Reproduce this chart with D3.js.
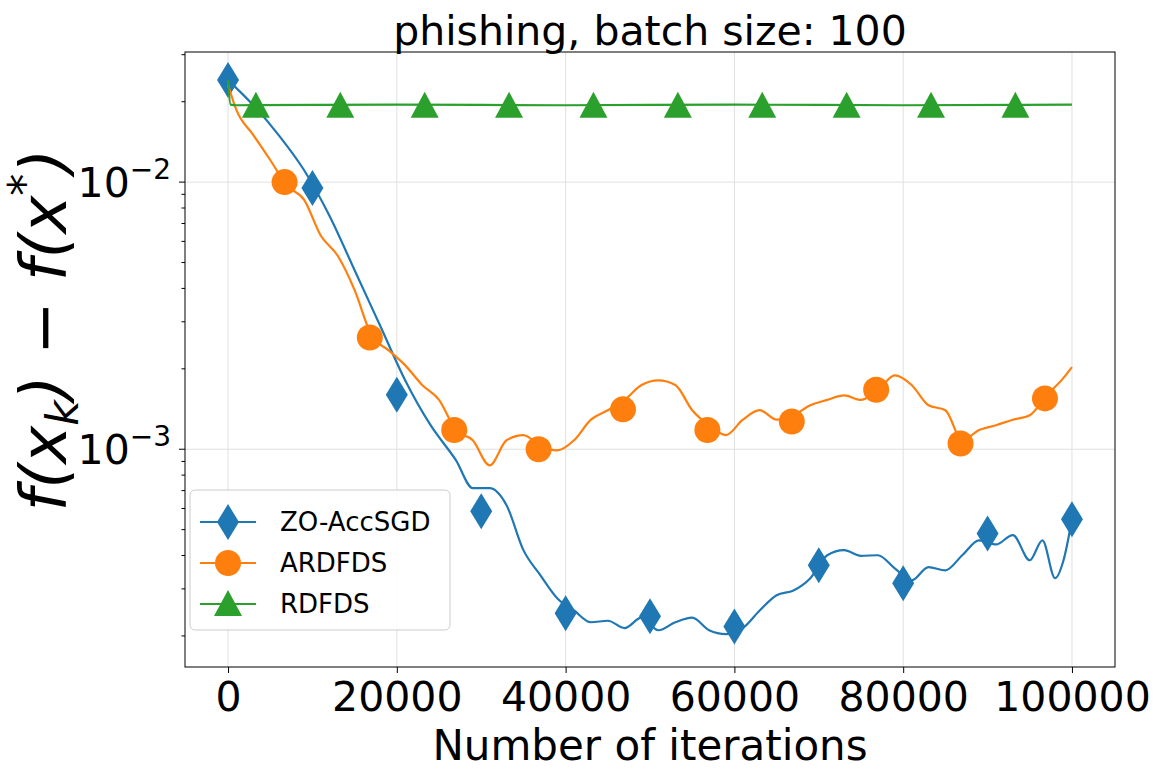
<!DOCTYPE html>
<html lang="en">
<head>
<meta charset="UTF-8">
<title>phishing, batch size: 100</title>
<script src="https://d3js.org/d3.v7.min.js"></script>
<style>
  body { margin: 0; background: #fff; font-family: "DejaVu Sans", sans-serif; }
</style>
</head>
<body>
<div id="container"></div>
<script>
// iterations and f(x_k)-f(x*) values
var zoIter = [0,3000,6000,9000,12000,15000,18000,21000,24000,27000,29000,31000,33000,35000,37000,39000,41000,43000,45000,47000,49000,51000,53000,55000,57000,59000,61000,63000,65000,67000,69000,71000,73000,75000,77000,79000,81000,83000,85000,87000,89000,91000,93000,95000,96500,98000,99000,100000]
var zoVals = [0.0241,0.0194,0.0150,0.0111,0.0075,0.00468,0.00291,0.00181,0.00123,9.1e-4,7.15e-4,7.15e-4,6.17e-4,4.19e-4,3.38e-4,2.77e-4,2.49e-4,2.25e-4,2.28e-4,2.14e-4,2.34e-4,2.10e-4,2.25e-4,2.34e-4,2.10e-4,2.03e-4,2.14e-4,2.49e-4,2.84e-4,2.96e-4,3.29e-4,4.01e-4,4.19e-4,3.99e-4,4.01e-4,3.58e-4,3.23e-4,3.62e-4,3.52e-4,4.01e-4,4.56e-4,4.4e-4,4.77e-4,3.84e-4,4.56e-4,3.29e-4,3.84e-4,5.47e-4]
var zoMarkIter = [0,10000,20000,30000,40000,50000,60000,70000,80000,90000,100000]
var zoMarkVals = [0.0241,0.0095,0.0016,5.86e-4,2.43e-4,2.37e-4,2.17e-4,3.68e-4,3.15e-4,4.84e-4,5.47e-4]

var arIter = [0,1000,3000,5000,7000,9000,11000,13000,15000,17000,19000,21000,23000,25000,27000,29000,31000,33000,35000,37000,39000,41000,43000,45000,47000,49000,51000,53000,55000,57000,59000,61000,63000,65000,67000,69000,71000,73000,75000,77000,79000,81000,83000,85000,87000,89000,91000,93000,95000,97000,99000,100000]
var arVals = [0.0231,0.0186,0.0150,0.0121,0.0097,0.0086,0.0063,0.0053,0.00394,0.00267,0.00235,0.00206,0.00174,0.00153,0.00118,0.00108,8.7e-4,0.00108,0.00113,0.00103,9.9e-4,0.00108,0.00129,0.00140,0.00153,0.00174,0.00181,0.00174,0.00140,0.00123,0.00113,0.00129,0.00140,0.00129,0.00134,0.00146,0.00153,0.00159,0.00153,0.00166,0.00189,0.00174,0.00146,0.00140,0.00108,0.00118,0.00123,0.00129,0.00134,0.00159,0.00185,0.00203]
var arMarkIter = [6700,16800,26800,36800,46800,56800,66800,76800,86800,96800]
var arMarkVals = [0.0100,0.00262,0.00118,0.00100,0.00141,0.00118,0.00127,0.00167,0.00105,0.00155]

var rdIter = [0,300,1000,20000,40000,60000,80000,100000]
var rdVals = [0.0241,0.0195,0.0194,0.0195,0.0194,0.0195,0.0194,0.0195]
var rdMarkIter = [3300,13300,23300,33300,43300,53300,63300,73300,83300,93300]
var rdMarkVal = 0.0193

var xTicks = [0,20000,40000,60000,80000,100000]
var yMajor = [-2,-3]

var W = 1158, H = 777
var m = {left: 185, right: 1115, top: 52, bottom: 667}
var svg = d3.select("#container").append("svg").attr("width", W).attr("height", H)

var x = d3.scaleLinear().domain([-5100, 105100]).range([m.left, m.right])
var y = d3.scaleLog().domain([1.53e-4, 0.0307]).range([m.bottom, m.top])

// grid
svg.append("g").selectAll("line").data(xTicks).enter().append("line")
  .attr("x1", d => x(d)).attr("x2", d => x(d)).attr("y1", m.top).attr("y2", m.bottom)
  .attr("stroke", "#e0e0e0").attr("stroke-width", 1)
svg.append("g").selectAll("line").data(yMajor).enter().append("line")
  .attr("x1", m.left).attr("x2", m.right).attr("y1", d => y(Math.pow(10, d))).attr("y2", d => y(Math.pow(10, d)))
  .attr("stroke", "#e0e0e0").attr("stroke-width", 1)

svg.append("clipPath").attr("id", "clip").append("rect")
  .attr("x", m.left).attr("y", m.top).attr("width", m.right - m.left).attr("height", m.bottom - m.top)

var line = d3.line().x(d => x(d[0])).y(d => y(d[1])).curve(d3.curveMonotoneX)
var plot = svg.append("g").attr("clip-path", "url(#clip)")

function diamond(g, cx, cy, c) {
  g.append("path").attr("d", "M" + cx + "," + (cy - 18) + "L" + (cx + 11) + "," + cy + "L" + cx + "," + (cy + 18) + "L" + (cx - 11) + "," + cy + "Z").attr("fill", c)
}
function circle(g, cx, cy, c) {
  g.append("circle").attr("cx", cx).attr("cy", cy).attr("r", 13).attr("fill", c)
}
function tri(g, cx, cy, c) {
  g.append("path").attr("d", "M" + cx + "," + (cy - 14) + "L" + (cx + 14) + "," + (cy + 12) + "L" + (cx - 14) + "," + (cy + 12) + "Z").attr("fill", c)
}

var series = [
  {name: "ZO-AccSGD", c: "#1f77b4", it: zoIter, v: zoVals, mi: zoMarkIter, mv: zoMarkVals, mk: diamond},
  {name: "ARDFDS", c: "#ff7f0e", it: arIter, v: arVals, mi: arMarkIter, mv: arMarkVals, mk: circle},
  {name: "RDFDS", c: "#2ca02c", it: rdIter, v: rdVals, mi: rdMarkIter, mv: rdMarkIter.map(() => rdMarkVal), mk: tri}
]
series.forEach(function(s) {
  plot.append("path").datum(s.it.map((d, i) => [d, s.v[i]]))
    .attr("d", line).attr("fill", "none").attr("stroke", s.c).attr("stroke-width", 2.2)
  s.mi.forEach((d, i) => s.mk(plot, x(d), y(s.mv[i]), s.c))
})

// frame
svg.append("rect").attr("x", m.left).attr("y", m.top).attr("width", m.right - m.left).attr("height", m.bottom - m.top)
  .attr("fill", "none").attr("stroke", "#000").attr("stroke-width", 1)

// x axis
var xa = svg.append("g").attr("transform", "translate(0," + m.bottom + ")")
  .call(d3.axisBottom(x).tickValues(xTicks).tickFormat(d3.format("d")).tickSize(6))
xa.select(".domain").remove()
xa.selectAll("text").attr("font-size", 41).attr("font-family", "DejaVu Sans").attr("dy", "0.85em").attr("fill", "#000")

// y ticks: major + minor
var minor = []
;[-4, -3, -2].forEach(function(e) { for (var k = 1; k < 10; k++) { var v = k * Math.pow(10, e); if (v > 1.53e-4 && v < 0.0307) minor.push(v) } })
svg.append("g").selectAll("line").data(minor).enter().append("line")
  .attr("x1", m.left).attr("x2", d => m.left - (Math.abs(Math.log10(d) - Math.round(Math.log10(d))) < 1e-6 ? 6 : 3.5))
  .attr("y1", d => y(d)).attr("y2", d => y(d)).attr("stroke", "#000")
yMajor.forEach(function(e) {
  var t = svg.append("text").attr("x", m.left - 14).attr("y", y(Math.pow(10, e)) + 15)
    .attr("text-anchor", "end").attr("font-size", 41).attr("fill", "#000")
  t.append("tspan").text("10")
  t.append("tspan").attr("dy", -18).attr("font-size", 28).text("\u2212" + Math.abs(e))
})

// titles
svg.append("text").attr("x", 650).attr("y", 45).attr("text-anchor", "middle").attr("font-size", 41).text("phishing, batch size: 100")
svg.append("text").attr("x", 650).attr("y", 760).attr("text-anchor", "middle").attr("font-size", 42).text("Number of iterations")
var yl = svg.append("text").attr("transform", "translate(66,330) rotate(-90)").attr("text-anchor", "middle")
  .attr("font-size", 64).attr("font-style", "italic")
yl.append("tspan").text("f(x")
yl.append("tspan").attr("font-size", 44).attr("dy", 12).text("k")
yl.append("tspan").attr("dy", -12).text(")")
yl.append("tspan").attr("font-style", "normal").text(" \u2212 ")
yl.append("tspan").text("f(x")
yl.append("tspan").attr("font-size", 44).attr("dy", -26).attr("font-style", "normal").text("*")
yl.append("tspan").attr("dy", 26).text(")")

// legend
var lg = svg.append("g")
lg.append("rect").attr("x", 190).attr("y", 490).attr("width", 260).attr("height", 140).attr("rx", 5)
  .attr("fill", "#fff").attr("fill-opacity", 0.85).attr("stroke", "#ccc")
series.forEach(function(s, i) {
  var cy = 522 + i * 41
  lg.append("line").attr("x1", 200).attr("x2", 256).attr("y1", cy).attr("y2", cy).attr("stroke", s.c).attr("stroke-width", 2.2)
  s.mk(lg, 228, cy, s.c)
  lg.append("text").attr("x", 280).attr("y", cy + 9).attr("font-size", 26).text(s.name)
})
</script>
</body>
</html>
